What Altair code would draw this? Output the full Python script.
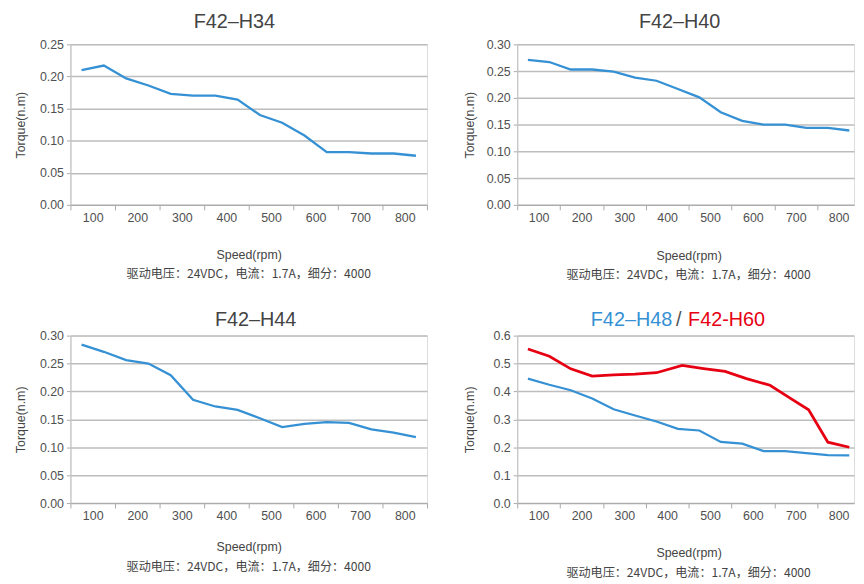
import altair as alt
import pandas as pd

# ---------------- data ----------------
speeds = [75, 125, 175, 225, 275, 325, 375, 425, 475, 525, 575, 625, 675, 725, 775, 825]
h34 = [0.210, 0.217, 0.197, 0.186, 0.173, 0.170, 0.170, 0.164, 0.140, 0.128, 0.108, 0.082, 0.082, 0.080, 0.080, 0.0765]
h40 = [0.271, 0.267, 0.253, 0.253, 0.249, 0.238, 0.232, 0.2165, 0.201, 0.173, 0.157, 0.150, 0.150, 0.144, 0.144, 0.139]
h44 = [0.284, 0.271, 0.256, 0.250, 0.229, 0.185, 0.173, 0.167, 0.152, 0.136, 0.142, 0.145, 0.1435, 0.132, 0.126, 0.118]
h48 = [0.446, 0.424, 0.404, 0.375, 0.336, 0.314, 0.292, 0.266, 0.260, 0.219, 0.213, 0.186, 0.186, 0.179, 0.172, 0.171]
h60_speeds = [75, 125, 175, 225, 275, 325, 375, 435, 485, 535, 585, 640, 685, 730, 775, 825]
h60 = [0.552, 0.526, 0.481, 0.455, 0.459, 0.462, 0.467, 0.493, 0.482, 0.472, 0.446, 0.422, 0.378, 0.334, 0.218, 0.200]

x_tick_values = [50, 100, 150, 200, 250, 300, 350, 400, 450, 500, 550, 600, 650, 700, 750, 800, 850]
y_ticks_025 = [0.0, 0.05, 0.10, 0.15, 0.20, 0.25]
y_ticks_030 = [0.0, 0.05, 0.10, 0.15, 0.20, 0.25, 0.30]
y_ticks_06 = [0.0, 0.1, 0.2, 0.3, 0.4, 0.5, 0.6]

titles = ["F42–H34", "F42–H40", "F42–H44", "F42–H48", "F42-H60"]
x_title = "Speed(rpm)"
y_title = "Torque(n.m)"
subtitle = "驱动电压：24VDC，电流：1.7A，细分：4000"

BLUE = "#3591d4"
RED = "#e60012"
TXT = "#444444"
LBL = "#505050"
GRID = "#bdbdbd"
AX = "#aaaaaa"
LABEL_FONT = "Liberation Sans"
TITLE_FONT = "Liberation Sans"
CJK = "Noto Sans CJK SC"


def x_enc(width, dmax, title_y):
    vals = [v for v in x_tick_values if v <= dmax]
    title_x = (450 - 50) / (dmax - 50) * width
    return alt.X(
        "speed:Q",
        scale=alt.Scale(domain=[50, dmax], nice=False, zero=False),
        axis=alt.Axis(
            values=vals,
            format="d",
            labelExpr="datum.value % 100 === 0 ? datum.label : ''",
            tickOpacity={"condition": {"test": "datum.value % 100 === 0", "value": 0}, "value": 1},
            grid=False,
            domainColor=AX,
            domainWidth=1,
            tickColor=AX,
            tickSize=5,
            labelPadding=2,
            labelFont=LABEL_FONT,
            labelFontSize=12.5,
            labelColor=LBL,
            labelFlush=False,
            labelOverlap=False,
            title=x_title,
            titleFont=LABEL_FONT,
            titleFontSize=12.5,
            titleFontWeight="normal",
            titleColor=TXT,
            titleX=title_x,
            titleY=title_y,
            titleAlign="center",
            titleBaseline="middle",
        ),
    )


def y_enc(height, ymax, vals, fmt, title_x):
    return alt.Y(
        "torque:Q",
        scale=alt.Scale(domain=[0, ymax], nice=False, zero=True),
        axis=alt.Axis(
            values=vals,
            format=fmt,
            grid=True,
            gridColor=GRID,
            gridWidth=1.5,
            domainColor="#c4c4c4",
            domainWidth=1.2,
            tickColor=AX,
            tickSize=4,
            labelPadding=3,
            labelFont=LABEL_FONT,
            labelFontSize=12.5,
            labelColor=LBL,
            labelOverlap=False,
            title=y_title,
            titleFont=LABEL_FONT,
            titleFontSize=12.5,
            titleFontWeight="normal",
            titleColor=TXT,
            titleAngle=270,
            titleX=title_x,
            titleY=height / 2,
            titleAlign="center",
            titleBaseline="middle",
        ),
    )


def title_mark(text, x, y, color=TXT, align="center"):
    return alt.Chart(pd.DataFrame({"t": [text]})).mark_text(
        font=TITLE_FONT, fontSize=20, color=color, align=align, baseline="alphabetic"
    ).encode(x=alt.value(x), y=alt.value(y), text="t:N")


def subtitle_mark(width, dmax, y):
    title_x = (450 - 50) / (dmax - 50) * width
    return alt.Chart(pd.DataFrame({"t": [subtitle]})).mark_text(
        font=CJK, fontSize=12.2, color=TXT, align="center", baseline="middle"
    ).encode(x=alt.value(title_x), y=alt.value(y), text="t:N")


def single_panel(values, width, height, dmax, ymax, yvals, fmt, title, tx, ty, xty, sty, ytx):
    df = pd.DataFrame({"speed": speeds, "torque": values})
    line = alt.Chart(df).mark_line(color=BLUE, strokeWidth=2.3).encode(
        x=x_enc(width, dmax, xty), y=y_enc(height, ymax, yvals, fmt, ytx)
    )
    return alt.layer(
        line, title_mark(title, tx, ty), subtitle_mark(width, dmax, height + sty)
    ).properties(width=width, height=height)


W1, W2 = 360, 340
D1, D2 = 850, 836
H1, H2 = 162, 169

p1 = single_panel(h34, W1, H1, D1, 0.25, y_ticks_025, ".2f", titles[0], 165.5, -17, 50, 70, -50)
p2 = single_panel(h40, W2, H1, D2, 0.30, y_ticks_030, ".2f", titles[1], 164, -17, 51, 71, -48.4)
p3 = single_panel(h44, W1, H2, D1, 0.30, y_ticks_030, ".2f", titles[2], 187, -10, 44, 65, -50)

df4 = pd.concat([
    pd.DataFrame({"speed": speeds, "torque": h48, "series": titles[3]}),
    pd.DataFrame({"speed": h60_speeds, "torque": h60, "series": titles[4]}),
])
lines4 = alt.Chart(df4).mark_line().encode(
    x=x_enc(W2, D2, 50),
    y=y_enc(H2, 0.6, y_ticks_06, ".1f", -47.7),
    color=alt.Color("series:N", scale=alt.Scale(domain=titles[3:], range=[BLUE, RED]), legend=None),
    strokeWidth=alt.StrokeWidth("series:N", scale=alt.Scale(domain=titles[3:], range=[2.2, 2.8]), legend=None),
    detail="series:N",
)
p4 = alt.layer(
    lines4,
    title_mark(titles[3], 156.5, -10, BLUE, "right"),
    title_mark("/", 163, -10, "#555555", "center"),
    title_mark(titles[4], 172.5, -10, RED, "left"),
    subtitle_mark(W2, D2, H2 + 71),
).properties(width=W2, height=H2)

row1 = alt.hconcat(p1, p2, spacing=35)
row2 = alt.hconcat(p3, p4, spacing=35)
chart = alt.vconcat(row1, row2, spacing=27).properties(
    padding={"left": 6, "top": 0, "right": 0, "bottom": 0}
).configure_view(stroke=None).configure(background="white")

chart.save("out.html", embed_options={"renderer": "svg", "actions": False})
